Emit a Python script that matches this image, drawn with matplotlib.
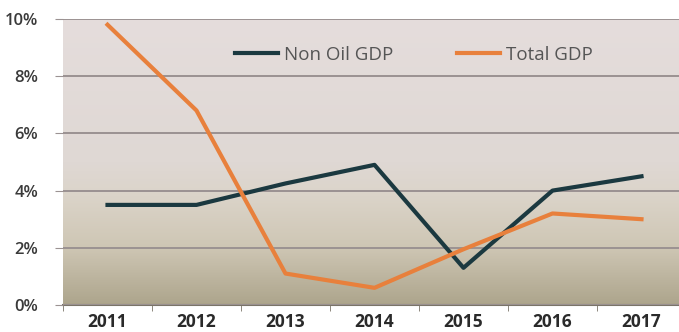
import numpy as np
import matplotlib.pyplot as plt
from matplotlib.colors import LinearSegmentedColormap

years = ["2011", "2012", "2013", "2014", "2015", "2016", "2017"]
non_oil_gdp = [3.5, 3.5, 4.25, 4.9, 1.3, 4.0, 4.5]
total_gdp = [9.8, 6.8, 1.1, 0.6, 1.95, 3.2, 3.0]
y_ticks = [0, 2, 4, 6, 8, 10]
y_labels = ["0%", "2%", "4%", "6%", "8%", "10%"]

plt.rcParams['font.family'] = ['Open Sans', 'DejaVu Sans']

fig = plt.figure(figsize=(6.79, 3.32), dpi=100)
ax = fig.add_axes([63 / 679, 27 / 332, 623 / 679, 286 / 332])

# background gradient, light mauve on top to olive-tan at the bottom
cmap = LinearSegmentedColormap.from_list(
    "bg", [(0, "#e5dddc"), (0.5, "#dfd8d4"), (0.62, "#dbd4c9"),
           (0.8, "#cec6b4"), (1, "#ada58c")])
grad = np.linspace(0, 1, 256).reshape(-1, 1)
ax.imshow(grad, cmap=cmap, extent=[0, 1, 0, 1], transform=ax.transAxes,
          aspect="auto", zorder=0)

x = np.arange(len(years))
ax.plot(x, non_oil_gdp, color="#1b3940", lw=3, label="Non Oil GDP", zorder=3)
ax.plot(x, total_gdp, color="#e8803c", lw=3, label="Total GDP", zorder=3)

ax.set_xlim(-0.5, len(years) - 0.5)
ax.set_ylim(0, 10)
ax.set_yticks(y_ticks)
ax.set_yticklabels(y_labels, fontsize=12, fontweight="semibold", color="#3a3a3a")
ax.yaxis.grid(True, color="#9b9292", lw=1.4)
ax.set_axisbelow(False)
ax.tick_params(axis="y", length=6, color="#9b9292", pad=12)

ax.set_xticks(x)
ax.set_xticklabels(years, fontsize=12.5, fontweight="bold", color="#2a2a2a")
ax.set_xticks(np.arange(len(years) + 1) - 0.5, minor=True)
ax.tick_params(axis="x", which="major", length=0, pad=6)
ax.tick_params(axis="x", which="minor", length=4, color="#7a7468")

for s in ["top", "right", "left"]:
    ax.spines[s].set_visible(False)
ax.spines["bottom"].set_color("#7a7468")
ax.spines["bottom"].set_linewidth(1.5)

leg = ax.legend(loc="center left", bbox_to_anchor=((235 - 63) / 623, 0.874),
                ncol=2, frameon=False, fontsize=13.5, handlelength=2.3,
                columnspacing=3.4, handletextpad=0.3, borderpad=0,
                borderaxespad=0)
for t in leg.get_texts():
    t.set_color("#555555")

fig.savefig("out.png", dpi=100)
